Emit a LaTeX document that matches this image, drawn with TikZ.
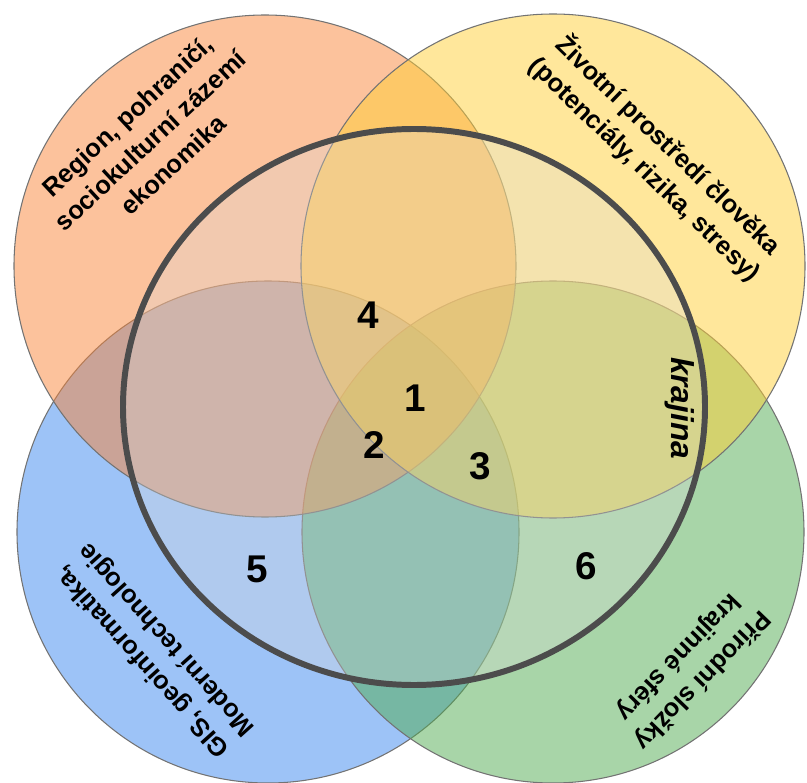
\documentclass[tikz,border=0pt]{standalone}
\usepackage{fontspec}
\setmainfont{Liberation Sans}

\definecolor{regionorange}{RGB}{249,133,57}
\definecolor{envyellow}{RGB}{255,207,55}
\definecolor{gisblue}{RGB}{59,135,239}
\definecolor{naturegreen}{RGB}{81,171,81}

\begin{document}
\begin{tikzpicture}[x=0.02cm, y=-0.02cm,
    sphere/.style={fill=#1, fill opacity=.5, draw=black!55, line width=.6pt},
    field/.style={font=\bfseries\fontsize{14.5}{19}\selectfont, align=center},
    num/.style={font=\bfseries\fontsize{22}{24}\selectfont}]
    \useasboundingbox (0,0) rectangle (807,783);

    % the four spheres
    \draw[sphere=gisblue]      (268,532) circle [radius=251];
    \draw[sphere=naturegreen]  (553,532) circle [radius=251];
    \draw[sphere=regionorange] (265,266) circle [radius=251];
    \draw[sphere=envyellow]    (553,266) circle [radius=252];

    % landscape
    \draw[line width=3.4pt, draw=black!70, fill=black!14, fill opacity=.3]
        (414,407) ellipse [x radius=291, y radius=278];

    \node[field, rotate=43]   (region) at (150,140) {Region, pohraničí,\\ sociokulturní zázemí\\ ekonomika};
    \node[field, rotate=-44]  (env)    at (657,157) {Životní prostředí člověka\\ (potenciály, rizika, stresy)};
    \node[field, rotate=132]  (gis)    at (155,650) {GIS, geoinformatika,\\ Moderní technologie};
    \node[field, rotate=-134] (nature) at (690,668) {Přírodní složky\\ krajinné sféry};

    \node[font=\bfseries\itshape\fontsize{18}{20}\selectfont, rotate=-90] (krajina) at (680,408) {krajina};

    \foreach \n/\x/\y in {1/415/398, 2/374/445, 3/480/466, 4/368/315, 5/257/569, 6/586/566}
        \node[num] (n\n) at (\x,\y) {\n};
\end{tikzpicture}
\end{document}
